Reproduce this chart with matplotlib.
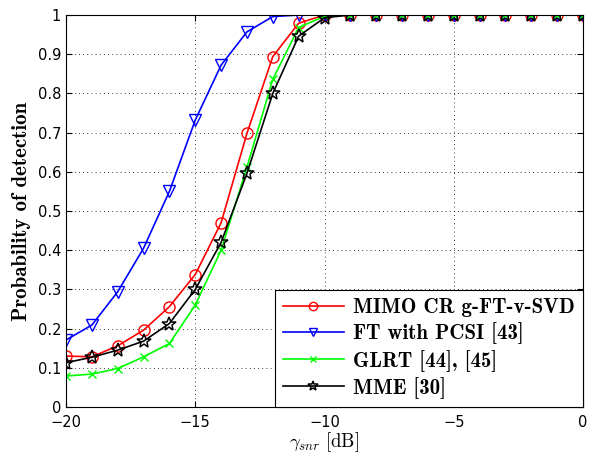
import numpy as np
import matplotlib
matplotlib.use("Agg")
import matplotlib.pyplot as plt

snr = list(range(-20, 1))

mimo = [0.130, 0.128, 0.156, 0.196, 0.256, 0.338, 0.470, 0.698, 0.894, 0.979, 1.0,
        1.0, 1.0, 1.0, 1.0, 1.0, 1.0, 1.0, 1.0, 1.0, 1.0]
ft_pcsi = [0.171, 0.209, 0.294, 0.405, 0.550, 0.732, 0.872, 0.957, 0.996, 1.0, 1.0,
           1.0, 1.0, 1.0, 1.0, 1.0, 1.0, 1.0, 1.0, 1.0, 1.0]
glrt = [0.079, 0.084, 0.098, 0.128, 0.162, 0.260, 0.400, 0.612, 0.836, 0.968, 0.997,
        1.0, 1.0, 1.0, 1.0, 1.0, 1.0, 1.0, 1.0, 1.0, 1.0]
mme = [0.113, 0.127, 0.145, 0.168, 0.213, 0.300, 0.420, 0.596, 0.800, 0.946, 0.993,
       1.0, 1.0, 1.0, 1.0, 1.0, 1.0, 1.0, 1.0, 1.0, 1.0]

labels = ["MIMO CR g-FT-v-SVD", "FT with PCSI [43]", "GLRT [44], [45]", "MME [30]"]

plt.rcParams['mathtext.fontset'] = 'cm'
plt.rcParams['font.family'] = 'DejaVu Sans'

fig = plt.figure(figsize=(5.9, 4.54), dpi=100)
ax = fig.add_axes([66/590, 1-407/454, (583-66)/590, (407-15)/454])

ax.plot(snr, mimo, color='red', marker='o', mfc='none', ms=8, lw=1.2, mew=1.0, label=labels[0])
ax.plot(snr, ft_pcsi, color='blue', marker='v', mfc='none', ms=8, lw=1.2, mew=1.0, label=labels[1])
ax.plot(snr, glrt, color='#00ff00', marker='x', ms=6, lw=1.2, mew=1.0, label=labels[2])
ax.plot(snr, mme, color='black', marker='*', mfc='none', ms=10, lw=1.2, mew=1.1, label=labels[3])

ax.set_xlim(-20, 0)
ax.set_ylim(0, 1)
ax.set_xticks([-20, -15, -10, -5, 0])
ax.set_yticks(np.arange(0, 11) / 10)
ax.set_yticklabels(["0", "0.1", "0.2", "0.3", "0.4", "0.5", "0.6", "0.7", "0.8", "0.9", "1"])
ax.tick_params(direction='in', top=True, right=True, labelsize=10.5, length=4)
ax.tick_params(axis='x', pad=6)
ax.grid(True, linestyle=(0, (1, 4)), color='black', linewidth=0.6)

ax.set_xlabel(r'$\gamma_{snr}\ [\mathrm{dB}]$', fontsize=13.5, labelpad=0)
ax.set_ylabel('Probability of detection', fontsize=15, family='cmb10', labelpad=5)

leg = ax.legend(loc='lower right', borderaxespad=0, fancybox=False, framealpha=1,
                edgecolor='black', prop={'family': 'cmb10', 'size': 15},
                handlelength=2.9, labelspacing=0.25, handletextpad=0.45,
                markerscale=0.75, borderpad=0.4)
leg.get_frame().set_linewidth(0.8)

fig.savefig('out.png', dpi=100)
